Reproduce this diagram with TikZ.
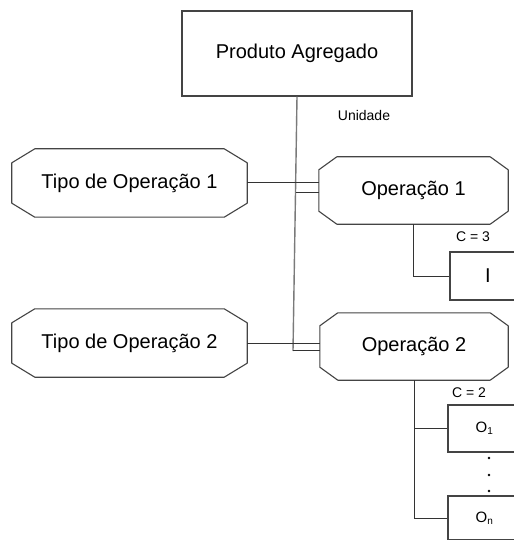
\documentclass[tikz,border=0pt]{standalone}
\usepackage{fontspec}
\setmainfont{Liberation Sans}
\usetikzlibrary{calc}

\definecolor{edgecol}{HTML}{444444}
\definecolor{trunkcol}{HTML}{7A7A7A}
\definecolor{wirecol}{HTML}{333333}

% octagon outline around a node: #1 node, #2 horizontal cut, #3 vertical cut
\newcommand\octagonframe[3]{%
  \draw[edgecol, line width=1.1bp, line join=round]
    ([xshift=#2]#1.north west) -- ([xshift=-#2]#1.north east)
    -- ([yshift=-#3]#1.north east) -- ([yshift=#3]#1.south east)
    -- ([xshift=-#2]#1.south east) -- ([xshift=#2]#1.south west)
    -- ([yshift=#3]#1.south west) -- ([yshift=-#3]#1.north west) -- cycle;}

\begin{document}
\begin{tikzpicture}[x=1bp, y=-1bp,
  bigtext/.style={font=\fontsize{20bp}{24bp}\selectfont},
  smalltext/.style={font=\fontsize{14bp}{17bp}\selectfont},
  octnode/.style={bigtext, inner sep=0pt, draw=none},
  rectbox/.style={draw=edgecol, line width=1.1bp, inner sep=0pt, fill=white},
  trunk/.style={draw=trunkcol, line width=1.4bp},
  wire/.style={draw=wirecol, line width=1bp}]

\path[use as bounding box, clip] (0,0) rectangle (514,540);
\fill[white] (0,0) rectangle (514,540);

% aggregate product
\node[rectbox, bigtext, minimum width=230bp, minimum height=85bp] (prod) at (297,53.5) {Produto Agregado};
\node[smalltext] (unid) at (364,115) {Unidade};

% operation types and operations
\node[octnode, minimum width=235bp, minimum height=68bp] (t1) at (129.5,183) {Tipo de Operação 1};
\node[octnode, minimum width=235bp, minimum height=68bp] (t2) at (129.5,343) {Tipo de Operação 2};
\node[octnode, minimum width=189bp, minimum height=67bp] (op1) at (413.5,190.5) {Operação 1};
\node[octnode, minimum width=188bp, minimum height=67bp] (op2) at (414,346.5) {Operação 2};
\octagonframe{t1}{23bp}{14bp}
\octagonframe{t2}{23bp}{14bp}
\octagonframe{op1}{18bp}{13bp}
\octagonframe{op2}{18bp}{13bp}

% inputs and outputs
\node[rectbox, bigtext, minimum width=76bp, minimum height=48bp] (ibox) at (488,276) {I};
\node[rectbox, minimum width=73bp, minimum height=47bp, font=\fontsize{15bp}{18bp}\selectfont] (o1) at (484.5,428.5) {\raisebox{-2bp}{O\textsubscript{\fontsize{10bp}{12bp}\selectfont 1}}};
\node[rectbox, minimum width=73bp, minimum height=44bp, font=\fontsize{15bp}{18bp}\selectfont] (on) at (484.5,518) {\raisebox{-7bp}{O\textsubscript{\fontsize{10bp}{12bp}\selectfont n}}};
\node[smalltext] (c3) at (473,237) {C = 3};
\node[smalltext] (c2) at (469,393) {C = 2};

% trunk from the aggregate product
\coordinate (vbot) at (293,351);
\coordinate (j1) at (295.5,193);
\coordinate (j2) at (293.3,350);
\draw[trunk] (prod.south) -- (vbot);

% links between types and operations
\draw[wire] (t1.east) -- (t1.east -| op1.west);
\draw[wire] (j1) -- (j1 -| op1.west);
\draw[wire] (t2.east) -- (t2.east -| op2.west);
\draw[wire] (j2) -- (j2 -| op2.west);

% operation branches
\draw[wire] (op1.south) |- (ibox.west);
\draw[wire] (op2.south) |- (o1.west);
\draw[wire] (op2.south) |- (on.west);

% ellipsis between outputs
\foreach \yy in {458,475,491}
  \fill[black] (489,\yy) circle (1.3bp);

\end{tikzpicture}
\end{document}
